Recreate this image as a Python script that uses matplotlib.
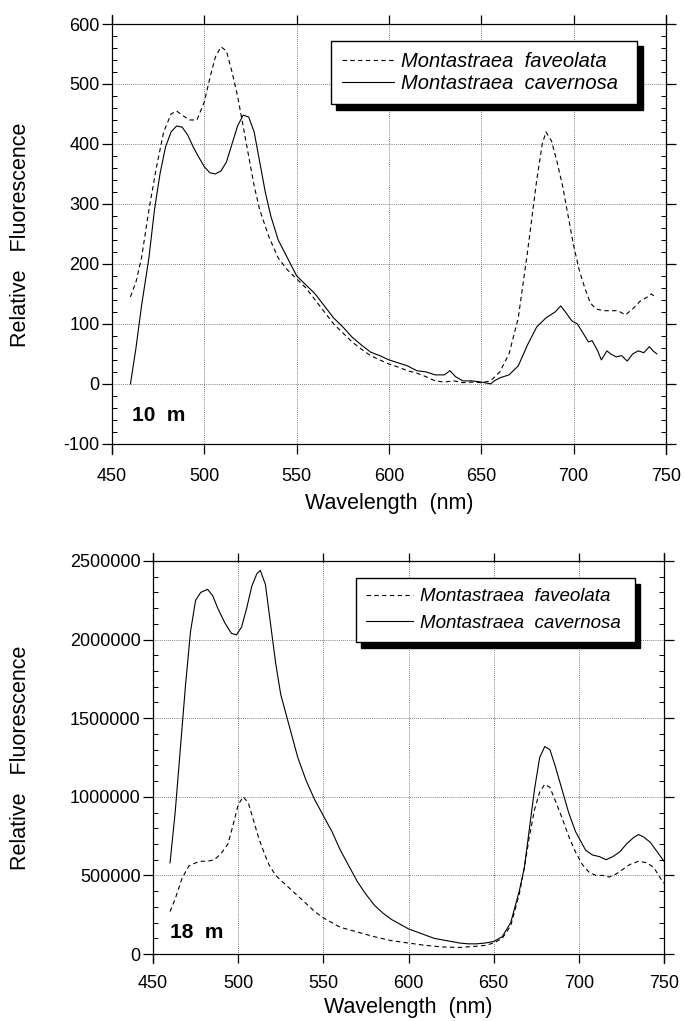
import matplotlib
matplotlib.use("Agg")
import matplotlib.pyplot as plt
import numpy as np

plt.rcParams['font.family'] = ['Liberation Sans', 'DejaVu Sans']
plt.rcParams['axes.unicode_minus'] = False

# ---- 10 m data ----
fav10_x = [460, 463, 466, 470, 474, 478, 482, 485, 488, 492, 496, 500, 503, 506, 509, 512, 515, 518, 521, 524,
           527, 530, 535, 540, 545, 550, 555, 560, 565, 570, 575, 580, 585, 590, 595, 600, 605, 610, 615, 620,
           625, 630, 635, 640, 645, 650, 655, 660, 665, 670, 675, 680, 683, 685, 688, 691, 694, 697, 700, 703,
           706, 709, 712, 716, 720, 724, 728, 732, 736, 740, 742, 744]
fav10_y = [145, 170, 210, 290, 360, 420, 450, 455, 448, 440, 440, 470, 510, 545, 562, 555, 520, 480, 430, 380,
           330, 290, 245, 210, 190, 175, 160, 140, 120, 100, 85, 70, 58, 47, 40, 33, 28, 22, 18, 12,
           5, 3, 5, 2, 3, 2, 5, 20, 50, 110, 220, 340, 400, 420, 405, 370, 330, 280, 230, 190,
           160, 135, 125, 122, 122, 122, 115, 125, 138, 145, 150, 145]

cav10_x = [460, 463, 466, 468, 470, 473, 476, 479, 482, 485, 488, 491, 494, 497, 500, 503, 506, 509, 512, 515,
           518, 521, 524, 527, 530, 533, 536, 540, 545, 550, 555, 560, 565, 570, 575, 580, 585, 590, 595, 600,
           605, 610, 615, 620, 625, 630, 633, 636, 640, 645, 650, 655, 657, 660, 665, 670, 675, 680, 685, 690,
           693, 696, 699, 702, 705, 708, 710, 713, 715, 718, 720, 723, 726, 729, 732, 735, 738, 741, 743, 745]
cav10_y = [0, 60, 130, 170, 210, 290, 350, 395, 420, 430, 428, 415, 395, 378, 362, 352, 350, 355, 370, 400,
           430, 448, 445, 420, 370, 320, 280, 240, 210, 180, 165, 150, 130, 110, 95, 78, 65, 53, 47, 40,
           35, 30, 22, 20, 15, 15, 22, 12, 5, 5, 3, 0, 5, 10, 15, 30, 65, 95, 110, 120,
           130, 118, 105, 100, 85, 70, 72, 55, 40, 55, 50, 45, 47, 38, 50, 55, 52, 62, 55, 50]

# ---- 18 m data ----
fav18_x = [460, 463, 467, 471, 475, 478, 482, 486, 490, 494, 497, 500, 503, 506, 509, 512, 515, 518, 522, 526,
           530, 535, 540, 545, 550, 555, 560, 570, 580, 590, 600, 610, 620, 630, 640, 645, 650, 655, 660, 665,
           668, 671, 674, 677, 680, 683, 686, 690, 694, 698, 702, 706, 710, 714, 718, 722, 726, 730, 735, 740,
           744, 748, 750]
fav18_y = [270000, 350000, 480000, 560000, 580000, 590000, 590000, 600000, 640000, 700000, 820000, 950000,
           1000000, 960000, 850000, 740000, 650000, 570000, 500000, 460000, 420000, 370000, 320000, 270000,
           230000, 200000, 170000, 140000, 110000, 85000, 70000, 55000, 45000, 42000, 50000, 55000, 70000,
           100000, 180000, 380000, 550000, 750000, 920000, 1030000, 1080000, 1060000, 980000, 870000, 750000,
           650000, 570000, 520000, 500000, 500000, 490000, 510000, 540000, 570000, 590000, 580000, 550000,
           480000, 450000]

cav18_x = [460, 463, 466, 469, 472, 475, 478, 482, 485, 488, 492, 496, 499, 502, 505, 508, 511, 513, 516, 519,
           522, 525, 530, 535, 540, 545, 550, 555, 560, 565, 570, 575, 580, 585, 590, 595, 600, 605, 610, 615,
           620, 625, 630, 635, 640, 645, 650, 655, 660, 665, 668, 671, 674, 677, 680, 683, 686, 690, 694, 698,
           701, 704, 708, 712, 716, 720, 724, 728, 732, 735, 738, 742, 746, 750]
cav18_y = [580000, 900000, 1300000, 1700000, 2050000, 2250000, 2300000, 2320000, 2280000, 2200000, 2110000,
           2040000, 2030000, 2080000, 2200000, 2340000, 2420000, 2440000, 2350000, 2100000, 1850000, 1650000,
           1450000, 1250000, 1100000, 980000, 880000, 780000, 660000, 560000, 460000, 380000, 310000, 260000,
           220000, 190000, 160000, 140000, 120000, 100000, 90000, 80000, 70000, 65000, 65000, 70000, 80000,
           110000, 200000, 400000, 550000, 800000, 1050000, 1250000, 1320000, 1300000, 1200000, 1050000,
           900000, 780000, 720000, 660000, 630000, 620000, 600000, 620000, 650000, 700000, 740000, 760000,
           745000, 710000, 650000, 590000]

labels = ["Montastraea  faveolata", "Montastraea  cavernosa"]

fig = plt.figure(figsize=(6.84, 10.21), dpi=100)


def style_axes(ax, ymin, ymax, ymajor, yminor, lo_pad, hi_pad, xpad):
    ax.set_xlim(450, 750)
    ax.set_ylim(ymin - lo_pad, ymax + hi_pad)
    ax.set_xticks(np.arange(450, 751, 50))
    ax.set_yticks(np.arange(ymin, ymax + 1, ymajor))
    ax.set_yticks(np.arange(ymin, ymax + 1, yminor), minor=True)
    ax.ticklabel_format(axis='y', style='plain', useOffset=False)
    ax.spines['top'].set_visible(False)
    ax.spines['bottom'].set_visible(False)
    for s in ('left', 'right'):
        ax.spines[s].set_linewidth(0.9)
    ax.axhline(ymin, color='black', lw=0.9)
    ax.axhline(ymax, color='black', lw=0.9)
    ax.grid(True, which='major', linestyle=(0, (1, 1.5)), color='#555555', lw=0.6)
    ax.tick_params(axis='y', which='major', direction='out', length=7, width=0.9,
                   labelsize=13, right=True, pad=2)
    ax.tick_params(axis='y', which='minor', direction='in', length=3.5, width=0.7, right=True)
    ax.tick_params(axis='x', which='major', direction='in', length=6.5, width=0.9,
                   labelsize=13, top=True, bottom=True, pad=xpad)


def draw_legend(ax, bbox, size, hlen, spacing):
    leg = ax.legend(labels, loc='upper left', bbox_to_anchor=bbox, mode='expand',
                    prop={'style': 'italic', 'size': size}, frameon=True, fancybox=False,
                    shadow={'color': 'black', 'alpha': 1, 'ox': 4, 'oy': -4},
                    handlelength=hlen, handletextpad=0.35, borderpad=0.55, labelspacing=spacing,
                    borderaxespad=0)
    leg.get_frame().set_edgecolor('black')
    leg.get_frame().set_linewidth(1.0)
    return leg


# ---- top panel ----
ax1 = fig.add_axes([0.1637, 0.5553, 0.81, 0.43])
ax1.plot(fav10_x, fav10_y, color='black', lw=0.8, linestyle=(0, (4, 3)))
ax1.plot(cav10_x, cav10_y, color='black', lw=0.8)
style_axes(ax1, -100, 600, 100, 20, 17, 15, 10)
ax1.set_xlabel("Wavelength  (nm)", fontsize=15.5)
ax1.set_ylabel("Relative   Fluorescence", fontsize=15.5)
ax1.xaxis.set_label_coords(0.5, -0.089)
ax1.yaxis.set_label_coords(-81 / 554, 0.5)
ax1.text(461, -53, "10  m", fontsize=15, fontweight='bold', va='center', ha='left')
draw_legend(ax1, (0.395, 0.80, 0.553, 0.141), 14.5, 2.6, 0.15)

# ---- bottom panel ----
ax2 = fig.add_axes([0.2237, 0.0568, 0.7471, 0.4016])
ax2.plot(fav18_x, fav18_y, color='black', lw=0.8, linestyle=(0, (4, 3)))
ax2.plot(cav18_x, cav18_y, color='black', lw=0.8)
style_axes(ax2, 0, 2500000, 500000, 100000, 57000, 51000, 8.5)
ax2.set_xlabel("Wavelength  (nm)", fontsize=15.5)
ax2.set_ylabel("Relative   Fluorescence", fontsize=15.5)
ax2.xaxis.set_label_coords(0.5, -0.082)
ax2.yaxis.set_label_coords(-122 / 511, 0.5)
ax2.text(460, 140000, "18  m", fontsize=15, fontweight='bold', va='center', ha='left')
draw_legend(ax2, (0.397, 0.78, 0.546, 0.159), 13.5, 2.5, 0.5)

fig.savefig("out.png", dpi=100)
